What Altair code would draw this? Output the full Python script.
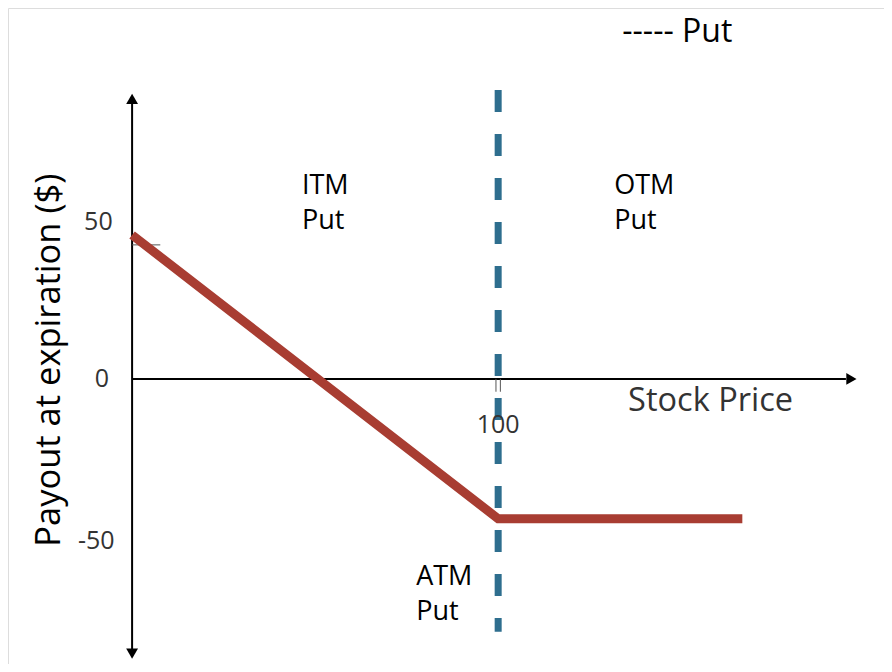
import altair as alt
import pandas as pd

# Payoff line (stock price, payout)
payoff_x = [0, 100, 166.7]
payoff_y = [53.7, -52.2, -52.2]

# Strike
strike = 100

# Axis extents
y_axis_top, y_axis_bottom = 103, -101
x_axis_right = 195

# Text labels
label_text = ["ITM", "Put", "OTM", "Put", "ATM", "Put"]
label_x = [46.4, 46.4, 131.7, 131.7, 77.6, 77.6]
label_y = [72, 59, 72, 59, -73.9, -87.0]

ytick_text = ["50", "0", "-50"]
ytick_x = [-5.3, -6.3, -4.8]
ytick_y = [58.6, 0, -60.4]

FONT = "Open Sans"
X_DOM = [-33.9, 205.4]
Y_DOM = [-106.4, 138.4]

xs = alt.Scale(domain=X_DOM, nice=False, zero=False)
ys = alt.Scale(domain=Y_DOM, nice=False, zero=False)


def X(f="x"):
    return alt.X(f"{f}:Q", scale=xs, axis=None)


def Y(f="y"):
    return alt.Y(f"{f}:Q", scale=ys, axis=None)


# axes
yaxis = alt.Chart(pd.DataFrame({"x": [0], "y": [y_axis_top], "y2": [y_axis_bottom]})).mark_rule(
    color="black", strokeWidth=2).encode(x=X(), y=Y(), y2="y2:Q")
xaxis = alt.Chart(pd.DataFrame({"x": [0], "x2": [x_axis_right], "y": [0]})).mark_rule(
    color="black", strokeWidth=2).encode(x=X(), x2="x2:Q", y=Y())

arrows = alt.Chart(pd.DataFrame({
    "x": [0, 0, x_axis_right + 1.5],
    "y": [y_axis_top + 1.5, y_axis_bottom - 1.5, 0],
    "shape": ["triangle-up", "triangle-down", "triangle-right"],
})).mark_point(filled=True, color="black", opacity=1, size=140).encode(
    x=X(), y=Y(), shape=alt.Shape("shape:N", scale=None, legend=None))

tick50 = alt.Chart(pd.DataFrame({"x": [0], "x2": [7.7], "y": [50]})).mark_rule(
    color="#555555", strokeWidth=1).encode(x=X(), x2="x2:Q", y=Y())
tick100 = alt.Chart(pd.DataFrame({"x": [99.4, 100.6], "y": [0, 0], "y2": [-4.8, -4.8]})).mark_rule(
    color="#555555", strokeWidth=1).encode(x=X(), y=Y(), y2="y2:Q")

strike_line = alt.Chart(pd.DataFrame({"x": [strike], "y": [107.8], "y2": [-94.4]})).mark_rule(
    color="#2e6e8e", strokeWidth=7, strokeDash=[22, 22]).encode(x=X(), y=Y(), y2="y2:Q")

payoff = alt.Chart(pd.DataFrame({"x": payoff_x, "y": payoff_y, "o": [0, 1, 2]})).mark_line(
    color="#a83d32", strokeWidth=9, strokeCap="butt", strokeJoin="miter").encode(
    x=X(), y=Y(), order="o:Q")

labels = alt.Chart(pd.DataFrame({"x": label_x, "y": label_y, "t": label_text})).mark_text(
    font=FONT, fontSize=27, align="left", baseline="middle", color="black").encode(
    x=X(), y=Y(), text="t:N")

yticks = alt.Chart(pd.DataFrame({"x": ytick_x, "y": ytick_y, "t": ytick_text})).mark_text(
    font=FONT, fontSize=25, align="right", baseline="middle", color="#333333").encode(
    x=X(), y=Y(), text="t:N")

xtick = alt.Chart(pd.DataFrame({"x": [strike], "y": [-17.2], "t": ["100"]})).mark_text(
    font=FONT, fontSize=25, align="center", baseline="middle", color="#333333").encode(
    x=X(), y=Y(), text="t:N")

xtitle = alt.Chart(pd.DataFrame({"x": [135.5], "y": [-8.2], "t": ["Stock Price"]})).mark_text(
    font=FONT, fontSize=32.5, align="left", baseline="middle", color="#333333").encode(
    x=X(), y=Y(), text="t:N")

ytitle = alt.Chart(pd.DataFrame({"x": [-22.3], "y": [7], "t": ["Payout at expiration ($)"]})).mark_text(
    font=FONT, fontSize=34.5, align="center", baseline="middle", angle=270, color="black").encode(
    x=X(), y=Y(), text="t:N")

legend = alt.Chart(pd.DataFrame({"x": [133.9], "y": [135.0], "t": ["----- Put"]})).mark_text(
    font=FONT, fontSize=32, align="left", baseline="top", color="black").encode(
    x=X(), y=Y(), text="t:N")

chart = alt.layer(
    yaxis, xaxis, arrows, tick50, tick100, strike_line, payoff,
    labels, yticks, xtick, xtitle, ytitle, legend,
).properties(
    width=876, height=656, padding=0,
    autosize=alt.AutoSizeParams(type="none"),
).configure_view(strokeWidth=0, stroke="transparent").configure(background="white")

chart.save("out.html", embed_options={"renderer": "svg", "actions": False})
